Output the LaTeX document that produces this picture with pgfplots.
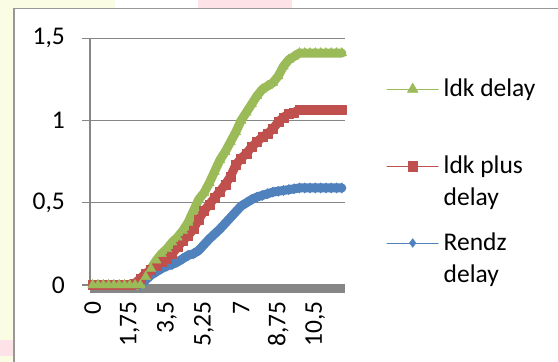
\documentclass[border=0pt]{standalone}
\usepackage{fontspec}
\setmainfont{Carlito}
\usepackage{pgfplots}
\usepackage{pgfplotstable}
\pgfplotsset{compat=1.18}

\definecolor{xlgreen}{HTML}{9BBB59}
\definecolor{xlred}{HTML}{C0504D}
\definecolor{xlblue}{HTML}{4F81BD}
\definecolor{xlgray}{HTML}{868686}
\definecolor{paleyellow}{HTML}{FAFCE3}
\definecolor{palepink}{HTML}{FDE3E7}

% delay curves, one row per time step of 0.25
\pgfplotstableread{
t     rendz  ldkplus ldk
0     0      0       0
0.25  0      0       0
0.5   0      0       0
0.75  0      0       0
1     0      0       0
1.25  0      0       0
1.5   0      0       0
1.75  0      0       0
2     0      0.01    0
2.25  0      0.04    0
2.5   0.03   0.07    0.05
2.75  0.06   0.095   0.10
3     0.08   0.12    0.15
3.25  0.10   0.14    0.19
3.5   0.115  0.16    0.22
3.75  0.125  0.19    0.26
4     0.14   0.23    0.29
4.25  0.16   0.27    0.33
4.5   0.18   0.30    0.38
4.75  0.19   0.34    0.45
5     0.21   0.40    0.52
5.25  0.245  0.45    0.56
5.5   0.28   0.49    0.62
5.75  0.31   0.53    0.69
6     0.34   0.57    0.76
6.25  0.375  0.61    0.81
6.5   0.41   0.66    0.87
6.75  0.445  0.73    0.93
7     0.48   0.77    1.00
7.25  0.50   0.80    1.05
7.5   0.52   0.84    1.10
7.75  0.535  0.87    1.15
8     0.545  0.90    1.19
8.25  0.555  0.92    1.21
8.5   0.565  0.95    1.23
8.75  0.57   0.99    1.27
9     0.575  1.02    1.33
9.25  0.58   1.04    1.37
9.5   0.585  1.05    1.39
9.75  0.59   1.065   1.41
10    0.59   1.065   1.41
10.25 0.59   1.065   1.41
10.5  0.59   1.065   1.41
10.75 0.59   1.065   1.41
11    0.59   1.065   1.41
11.25 0.59   1.065   1.41
11.5  0.59   1.065   1.41
11.75 0.59   1.065   1.41
}\delays

\begin{document}
\begin{tikzpicture}
\useasboundingbox (0bp,0bp) rectangle (558bp,362bp);
% page background with its faint watermark tints
\fill[white] (0bp,0bp) rectangle (558bp,362bp);
\fill[paleyellow] (0bp,0bp) rectangle (14bp,362bp);
\fill[paleyellow] (0bp,353bp) rectangle (115bp,362bp);
\fill[palepink] (198bp,353bp) rectangle (292bp,362bp);
\fill[palepink] (0bp,6bp) rectangle (14bp,22bp);
% chart area
\filldraw[fill=white, draw=xlgray!85, line width=1.6bp] (14bp,-20bp) rectangle (580bp,353.5bp);

\begin{axis}[
  at={(90bp,77bp)}, anchor=south west,
  scale only axis, width=254.5bp, height=246.7bp,
  xmin=-0.125, xmax=11.875, ymin=0, ymax=1.5,
  clip=false,
  axis lines*=left, axis line style={-},
  x axis line style={draw=xlgray, line width=8bp, yshift=-4bp},
  y axis line style={draw=xlgray, line width=1.3bp},
  ymajorgrids, major grid style={draw=xlgray, line width=1.3bp},
  ytick={0,0.5,1,1.5}, yticklabels={0,{0,5},1,{1,5}},
  xtick={0,1.75,3.5,5.25,7,8.75,10.5},
  xticklabels={0,{1,75},{3,5},{5,25},7,{8,75},{10,5}},
  tick align=outside, major tick length=8bp,
  ytick style={draw=xlgray, line width=1.3bp},
  xtick style={draw=none},
  ticklabel style={font=\fontsize{25.5bp}{30bp}\selectfont, inner sep=0pt},
  xticklabel style={rotate=90, anchor=east},
  yticklabel shift=17bp,
  xticklabel shift=8.5bp,
  reverse legend,
  legend style={at={(axis description cs:1.1658,0.854)}, anchor=north west,
    draw=none, fill=none, inner sep=0pt, outer sep=0pt,
    column sep=5bp, row sep=21bp,
    font=\fontsize{25.5bp}{32bp}\selectfont,
    nodes={align=left, anchor=base west, inner sep=0pt}},
]
\addplot[xlblue, line width=9bp, line join=round, line cap=round,
  mark=diamond*, mark size=5.2bp, mark options={line width=0.4bp, solid},
  legend image code/.code={
    \draw[xlblue, line width=1bp] (0bp,39.5bp) -- (51bp,39.5bp);
    \draw[xlblue, line width=0.4bp] plot[mark=diamond*, mark size=4.4bp] coordinates {(25.5bp,39.5bp)};
  }] table[x=t, y=rendz] {\delays};
\addlegendentry{Rendz\strut\\delay\strut}

\addplot[xlred, line width=9bp, line join=round, line cap=round,
  mark=square*, mark size=4.5bp, mark options={line width=0.4bp, solid},
  legend image code/.code={
    \draw[xlred, line width=1bp] (0bp,39.5bp) -- (51bp,39.5bp);
    \draw[xlred, line width=0.4bp] plot[mark=square*, mark size=4.7bp] coordinates {(25.5bp,39.5bp)};
  }] table[x=t, y=ldkplus] {\delays};
\addlegendentry{ldk plus\strut\\delay\strut}

\addplot[xlgreen, line width=9bp, line join=round, line cap=round,
  mark=triangle*, mark size=5.6bp, mark options={line width=0.4bp, solid},
  legend image code/.code={
    \draw[xlgreen, line width=1bp] (0bp,39.5bp) -- (51bp,39.5bp);
    \draw[xlgreen, line width=0.4bp] plot[mark=triangle*, mark size=6.2bp] coordinates {(25.5bp,39.5bp)};
  }] table[x=t, y=ldk] {\delays};
\addlegendentry{ldk delay\strut\\\strut}
\end{axis}
\end{tikzpicture}
\end{document}
